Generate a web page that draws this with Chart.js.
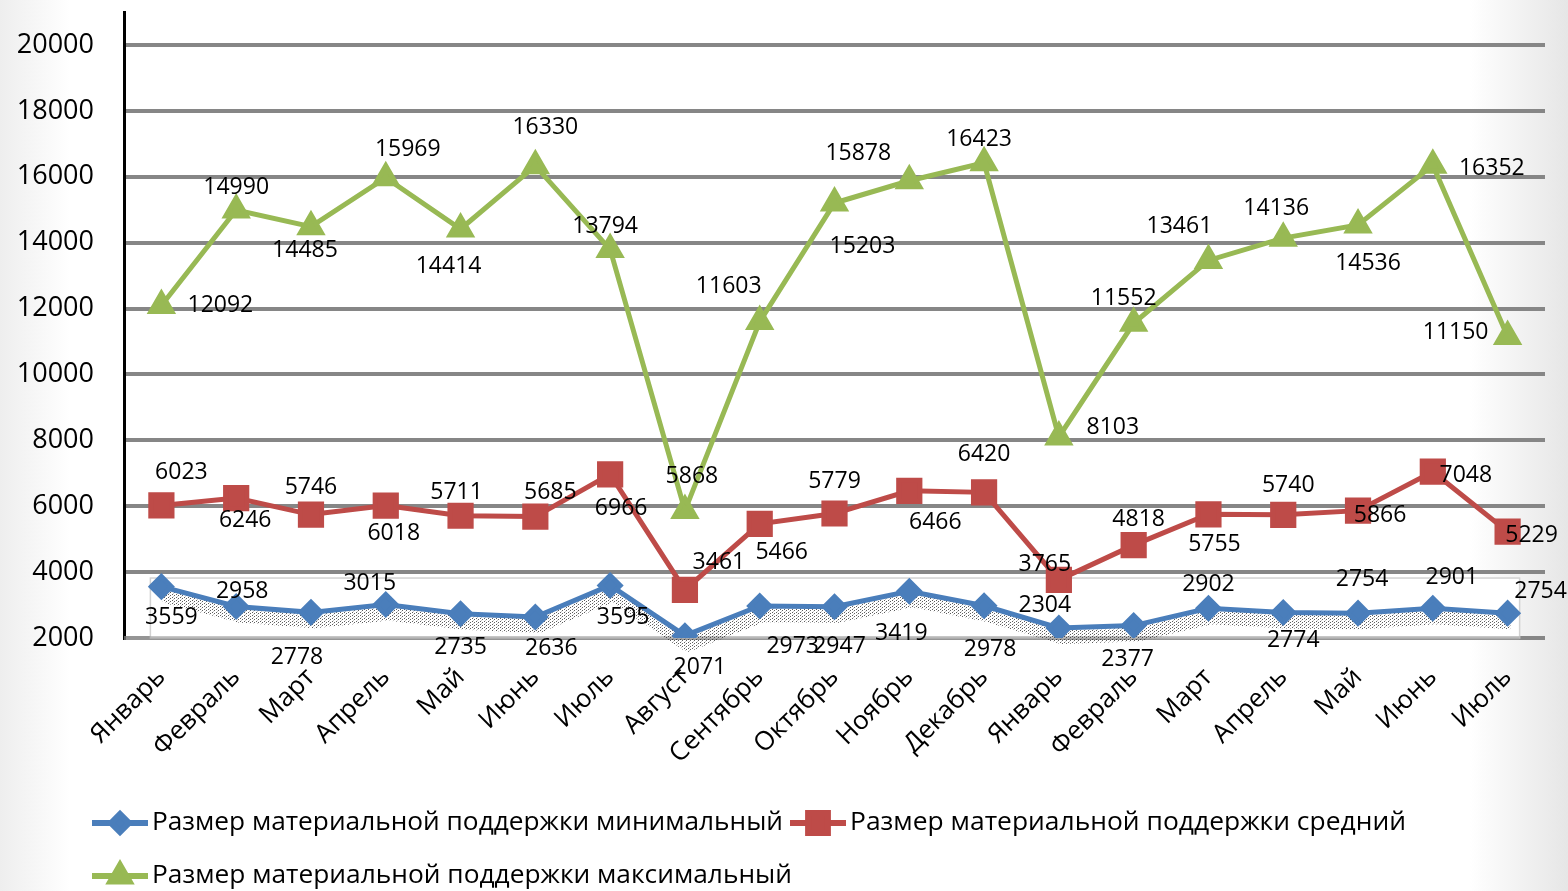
<!DOCTYPE html>
<html>
<head>
<meta charset="utf-8">
<script src="https://cdn.jsdelivr.net/npm/chart.js@4/dist/chart.umd.min.js"></script>
<style>
    body {
        margin: 0;
        background: linear-gradient(90deg, #eeeeee 0px, #ffffff 70px, #ffffff 1470px, #e6e6e6 1568px);
    }
    #wrap { width: 1568px; height: 891px; }
</style>
</head>
<body>
<div id="wrap"><canvas id="myChart" width="1568" height="891"></canvas></div>
<script>
// данные с картинки
const categories = ['Январь', 'Февраль', 'Март', 'Апрель', 'Май', 'Июнь', 'Июль', 'Август', 'Сентябрь', 'Октябрь',
    'Ноябрь', 'Декабрь', 'Январь', 'Февраль', 'Март', 'Апрель', 'Май', 'Июнь', 'Июль'];
const minSupport = [3559, 2958, 2778, 3015, 2735, 2636, 3595, 2071, 2973, 2947, 3419, 2978, 2304, 2377, 2902, 2774, 2754, 2901, 2754];
const avgSupport = [6023, 6246, 5746, 6018, 5711, 5685, 6966, 3461, 5466, 5779, 6466, 6420, 3765, 4818, 5755, 5740, 5866, 7048, 5229];
const maxSupport = [12092, 14990, 14485, 15969, 14414, 16330, 13794, 5868, 11603, 15203, 15878, 16423, 8103, 11552, 13461, 14136, 14536, 16352, 11150];
const yTicks = [2000, 4000, 6000, 8000, 10000, 12000, 14000, 16000, 18000, 20000];
const seriesNames = ['Размер материальной поддержки минимальный', 'Размер материальной поддержки средний',
    'Размер материальной поддержки максимальный'];

// смещения подписей значений (dx, dy) относительно точки
const minLabelOffsets = [[10, 31], [6, -15], [-14, 45], [-16, -21], [0, 34], [16, 31], [13, 32], [15, 32], [33, 41], [5, 40],
    [-8, 42], [6, 44], [-14, -23], [-6, 34], [0, -24], [10, 28], [4, -34], [19, -31], [33, -22]];
const avgLabelOffsets = [[20, -33], [9, 22], [0, -27], [8, 28], [-4, -23], [15, -24], [11, 34], [34, -27], [22, 29], [0, -32],
    [26, 32], [0, -38], [-14, -15], [5, -26], [6, 30], [5, -29], [22, 5], [33, 4], [24, 4]];
const maxLabelOffsets = [[59, 0], [0, -23], [-6, 24], [22, -28], [-12, 37], [10, -38], [-5, -23], [7, -34], [-31, -35], [28, 43],
    [-51, -27], [-5, -23], [54, -9], [-10, -25], [-29, -34], [-7, -30], [10, 38], [59, 3], [-52, -4]];
const labelOffsets = [minLabelOffsets, avgLabelOffsets, maxLabelOffsets];

const BLUE = '#4a7ebb';
const RED = '#be4b48';
const GREEN = '#98b954';
const FONT = '"Open Sans", "Noto Sans", sans-serif';

function dotPattern() {
    const c = document.createElement('canvas');
    c.width = 4;
    c.height = 3;
    const cx = c.getContext('2d');
    cx.fillStyle = 'rgba(40,40,40,0.75)';
    cx.fillRect(0, 0, 1, 1);
    cx.fillRect(2, 1, 1, 1);
    cx.fillStyle = 'rgba(120,120,120,0.4)';
    cx.fillRect(1, 2, 1, 1);
    return cx.createPattern(c, 'repeat');
}

// рамка и "тень" под синей линией
const shadowPlugin = {
    id: 'shadowPlugin',
    beforeDatasetsDraw(chart) {
        const ctx = chart.ctx;
        const pts = chart.getDatasetMeta(0).data;
        const y = chart.scales.y;
        const top = y.getPixelForValue(3820);
        const bottom = chart.chartArea.bottom;
        const left = pts[0].x - 11;
        const right = pts[pts.length - 1].x + 12;
        ctx.save();
        ctx.fillStyle = '#ffffff';
        ctx.strokeStyle = '#d2d2d2';
        ctx.lineWidth = 1.5;
        ctx.fillRect(left, top, right - left, bottom - top);
        ctx.strokeRect(left, top, right - left, bottom - top);
        ctx.strokeStyle = 'rgba(160,160,160,0.6)';
        ctx.lineWidth = 4;
        ctx.beginPath();
        ctx.moveTo(chart.chartArea.left, bottom);
        ctx.lineTo(right, bottom);
        ctx.stroke();
        ctx.beginPath();
        pts.forEach((p, i) => i ? ctx.lineTo(p.x + 3, p.y + 9) : ctx.moveTo(p.x + 3, p.y + 9));
        ctx.strokeStyle = dotPattern();
        ctx.lineWidth = 14;
        ctx.lineJoin = 'round';
        ctx.stroke();
        ctx.restore();
    }
};

const valueLabels = {
    id: 'valueLabels',
    afterDatasetsDraw(chart) {
        const ctx = chart.ctx;
        ctx.save();
        ctx.font = '23px ' + FONT;
        ctx.fillStyle = '#000';
        ctx.textAlign = 'center';
        ctx.textBaseline = 'middle';
        chart.data.datasets.forEach((ds, di) => {
            chart.getDatasetMeta(di).data.forEach((p, i) => {
                const off = labelOffsets[di][i];
                ctx.fillText(String(ds.data[i]), p.x + off[0], p.y + off[1]);
            });
        });
        ctx.restore();
    }
};

const customLegend = {
    id: 'customLegend',
    afterDraw(chart) {
        const ctx = chart.ctx;
        const items = [
            {ds: 0, x: 92, y: 823, w: 631},
            {ds: 1, x: 790, y: 823, w: 556},
            {ds: 2, x: 92, y: 876, w: 640}
        ];
        ctx.save();
        items.forEach(it => {
            const ds = chart.data.datasets[it.ds];
            ctx.strokeStyle = ds.borderColor;
            ctx.lineWidth = 6;
            ctx.beginPath();
            ctx.moveTo(it.x, it.y);
            ctx.lineTo(it.x + 56, it.y);
            ctx.stroke();
            ctx.fillStyle = ds.borderColor;
            ctx.strokeStyle = ds.borderColor;
            Chart.helpers.drawPoint(ctx, {pointStyle: ds.pointStyle, radius: ds.pointRadius - 1, rotation: 0, borderWidth: 1},
                it.x + 28, it.y);
            ctx.font = '26px ' + FONT;
            ctx.fillStyle = '#000';
            ctx.textBaseline = 'middle';
            const tw = ctx.measureText(ds.label).width;
            ctx.save();
            ctx.translate(it.x + 60, it.y);
            ctx.scale(it.w / tw, 1);
            ctx.fillText(ds.label, 0, 0);
            ctx.restore();
        });
        ctx.restore();
    }
};

const config = {
    type: 'line',
    data: {
        labels: categories,
        datasets: [{
            label: seriesNames[0],
            data: minSupport,
            borderColor: BLUE,
            backgroundColor: BLUE,
            borderWidth: 5,
            pointStyle: 'rectRot',
            pointRadius: 10,
            order: 3
        }, {
            label: seriesNames[1],
            data: avgSupport,
            borderColor: RED,
            backgroundColor: RED,
            borderWidth: 5,
            pointStyle: 'rect',
            pointRadius: 15,
            order: 2
        }, {
            label: seriesNames[2],
            data: maxSupport,
            borderColor: GREEN,
            backgroundColor: GREEN,
            borderWidth: 5,
            pointStyle: 'triangle',
            pointRadius: 12,
            order: 1
        }]
    },
    options: {
        responsive: false,
        animation: false,
        devicePixelRatio: 1,
        layout: {autoPadding: false, padding: {top: 12, right: 23, left: 0, bottom: 0}},
        plugins: {
            legend: {display: false},
            tooltip: {enabled: false}
        },
        scales: {
            x: {
                offset: true,
                grid: {display: false},
                border: {display: false},
                ticks: {
                    color: '#000',
                    font: {family: FONT, size: 26},
                    minRotation: 45,
                    maxRotation: 45,
                    autoSkip: false,
                    padding: 16
                },
                afterFit(scale) {
                    scale.height = 253;
                    scale.paddingLeft = 0;
                    scale.paddingRight = 0;
                }
            },
            y: {
                min: 2000,
                max: 21000,
                afterBuildTicks(axis) { axis.ticks = yTicks.map(v => ({value: v})); },
                grid: {color: '#868686', lineWidth: 4, drawTicks: false},
                border: {color: '#000', width: 3},
                ticks: {
                    color: '#000',
                    font: {family: FONT, size: 27},
                    padding: 30,
                    callback: v => String(v)
                },
                afterFit(scale) {
                    scale.width = 124;
                    scale.paddingTop = 0;
                    scale.paddingBottom = 0;
                }
            }
        }
    },
    plugins: [shadowPlugin, valueLabels, customLegend]
};

const chart = new Chart(document.getElementById('myChart').getContext('2d'), config);
</script>
</body>
</html>
